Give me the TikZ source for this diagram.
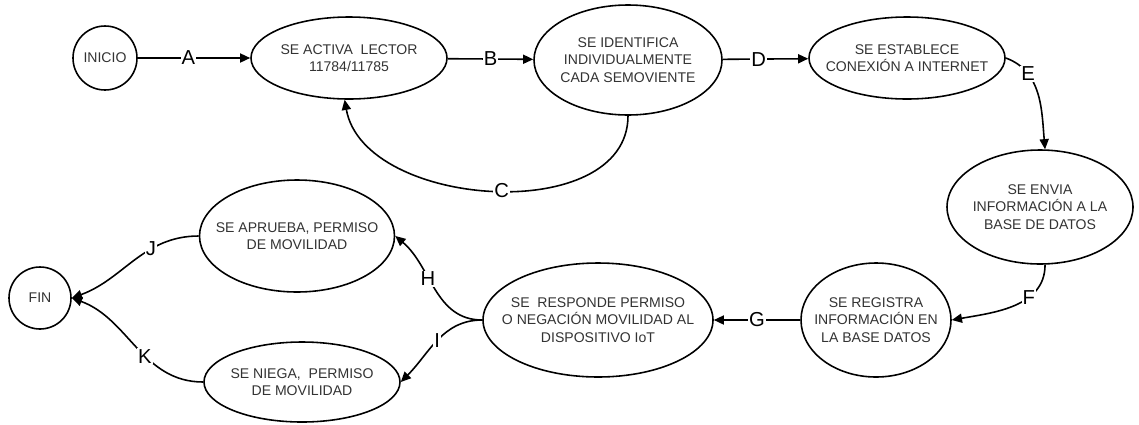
\documentclass[tikz,border=0pt]{standalone}
\usepackage{fontspec}
\setmainfont{Liberation Sans}
\usetikzlibrary{shapes.geometric, arrows.meta}

\begin{document}
\begin{tikzpicture}[
  state/.style={ellipse, draw, line width=0.9pt, inner sep=-2cm, align=center,
                text=black!80, font=\fontsize{8}{9.9}\selectfont},
  term/.style={circle, draw, line width=0.9pt, minimum size=1.28cm, inner sep=0pt,
               text=black!80, font=\fontsize{8}{9.9}\selectfont},
  arr/.style={-{Triangle[length=5.8pt, width=5.2pt]}, line width=0.9pt},
  lbl/.style={fill=white, inner sep=0.6pt, font=\fontsize{11.5}{13}\selectfont}
]
  \useasboundingbox (0, 0) rectangle (22.78, -8.48);

  \node[term] (inicio) at (2.10, -1.16) {INICIO};
  \node[state, minimum width=3.92cm, minimum height=1.64cm] (activa) at (6.98, -1.16)
    {SE ACTIVA\ \ LECTOR\\11784/11785};
  \node[state, minimum width=3.76cm, minimum height=2.20cm] (ident) at (12.56, -1.20)
    {SE IDENTIFICA\\INDIVIDUALMENTE\\CADA SEMOVIENTE};
  \node[state, minimum width=3.92cm, minimum height=1.64cm] (estab) at (18.14, -1.16)
    {SE ESTABLECE\\CONEXIÓN A INTERNET};
  \node[state, minimum width=3.72cm, minimum height=2.28cm] (envia) at (20.80, -4.14)
    {SE ENVIA\\INFORMACIÓN A LA\\BASE DE DATOS};
  \node[state, minimum width=3.00cm, minimum height=2.28cm] (regis) at (17.52, -6.40)
    {SE REGISTRA\\INFORMACIÓN EN\\LA BASE DATOS};
  \node[state, minimum width=4.60cm, minimum height=2.28cm] (resp) at (11.96, -6.40)
    {SE\ \ RESPONDE PERMISO\\O NEGACIÓN MOVILIDAD AL\\DISPOSITIVO IoT};
  \node[state, minimum width=3.90cm, minimum height=2.24cm] (aprueba) at (5.94, -4.72)
    {SE APRUEBA, PERMISO\\DE MOVILIDAD};
  \node[state, minimum width=3.92cm, minimum height=1.60cm] (niega) at (6.04, -7.64)
    {SE NIEGA,\ \ PERMISO\\DE MOVILIDAD};
  \node[term, minimum size=1.24cm] (fin) at (0.80, -5.96) {FIN};

  % Upper row
  \draw[arr] (inicio) -- node[lbl, pos=.45] {A} (activa);
  \draw[arr] (activa) -- node[lbl] {B} (ident);
  \draw[arr] (ident.south) to[out=-90, in=-80] node[lbl, pos=.48] {C} (activa.-96);
  \draw[arr] (ident) -- node[lbl, pos=.42] {D} (estab);
  \draw[arr] (estab.east) to[out=-20, in=95] node[lbl, pos=.27] {E} (envia.85);

  % Return row
  \draw[arr] (envia.-85) to[out=-90, in=10] node[lbl, pos=.35] {F} (regis.east);
  \draw[arr] (regis) -- node[lbl] {G} (resp);
  \draw[arr] (resp.west) to[out=180, in=-40] node[lbl, pos=.6] {H} (aprueba.east);
  \draw[arr] (resp.west) to[out=180, in=45] node[lbl, pos=.5] {I} (niega.east);

  % End
  \draw[arr] (aprueba.west) to[out=180, in=20] node[lbl, pos=.35] {J} (fin.east);
  \draw[arr] (niega.west) to[out=180, in=-20] node[lbl, pos=.42] {K} (fin.east);
\end{tikzpicture}
\end{document}
